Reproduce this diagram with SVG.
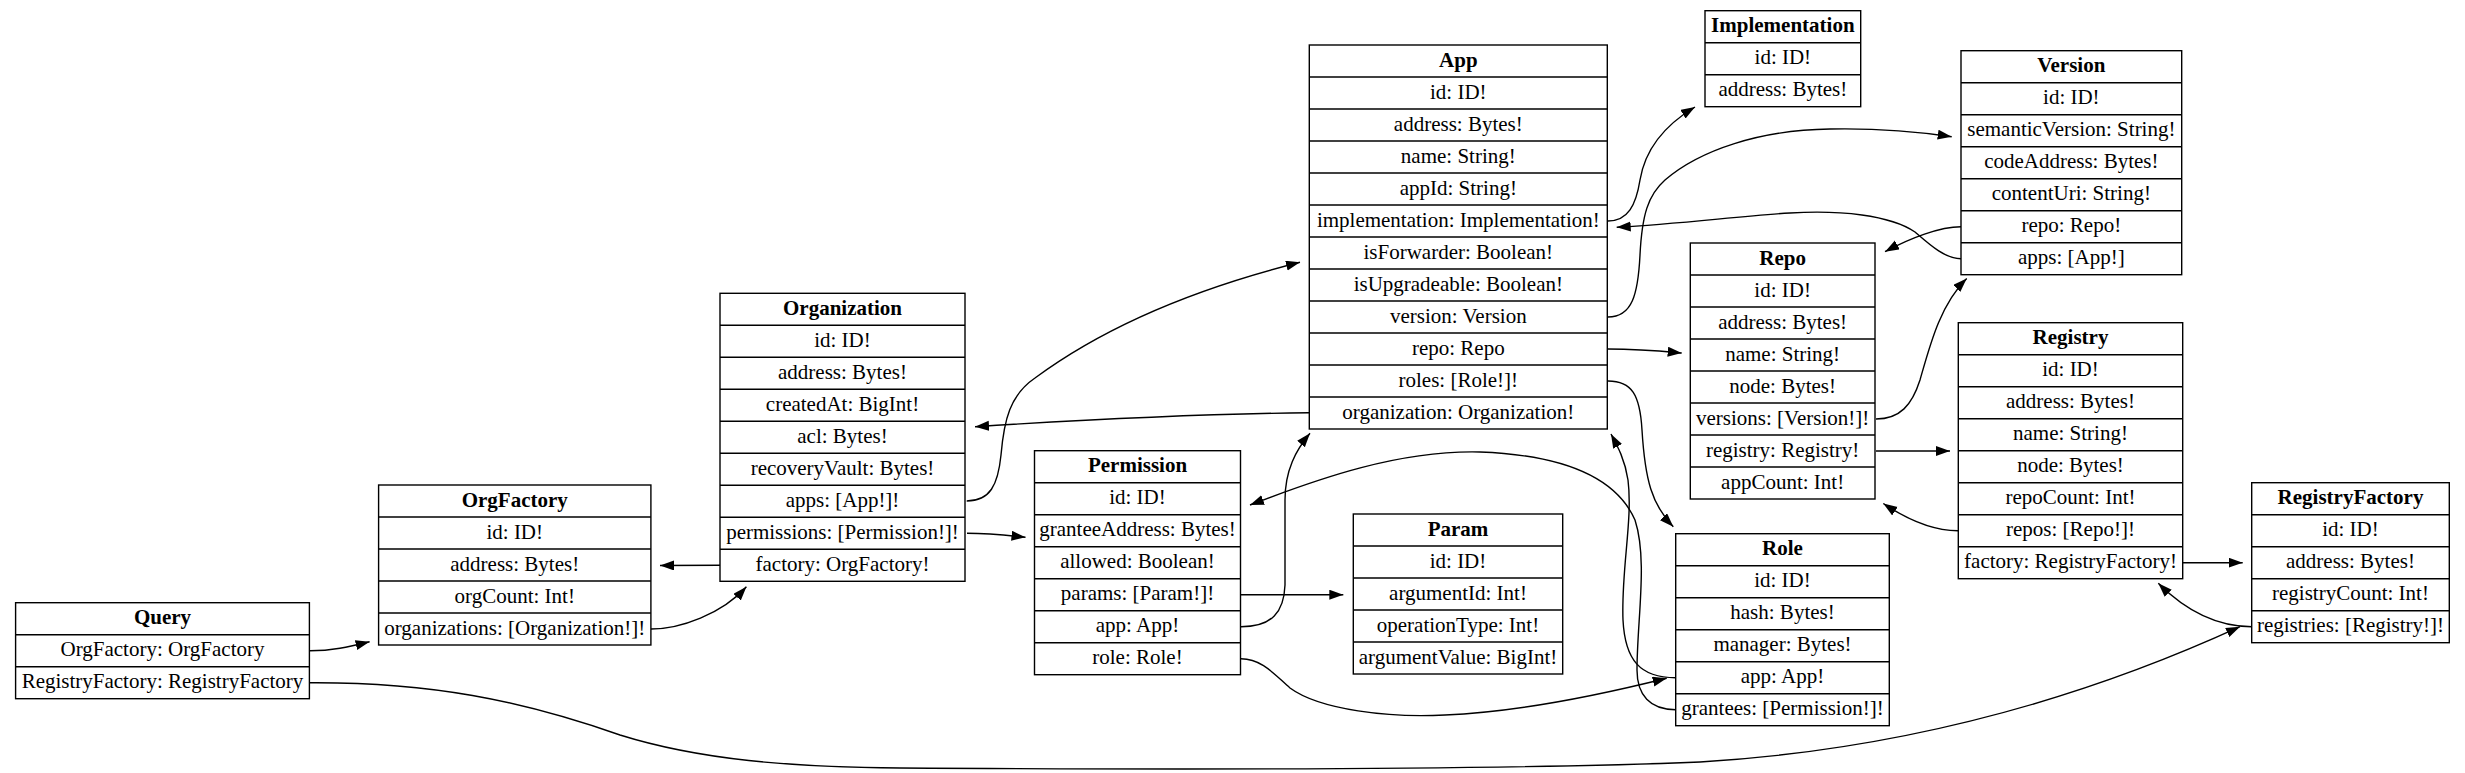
<svg xmlns="http://www.w3.org/2000/svg" width="2465" height="773" viewBox="0 0 2465 773">
<style>
.bg{fill:#fff}
.box{fill:#fff;stroke:#000;stroke-width:1.4}
.sep{stroke:#000;stroke-width:1.4}
.t{font-family:"Liberation Serif","Times New Roman",serif;font-size:21px;text-anchor:middle;fill:#000}
.h{font-weight:bold}
.e{fill:none;stroke:#000;stroke-width:1.4;marker-end:url(#ah)}
</style>
<defs>
<marker id="ah" markerUnits="userSpaceOnUse" markerWidth="15" markerHeight="11" refX="14" refY="5" orient="auto">
<path d="M0,0 L14,5 L0,10 z" fill="#000"/>
</marker>
</defs>
<rect class="bg" x="0" y="0" width="2465" height="773"/>

<g id="edges">
<path class="e" d="M310,650.7 C332,650.7 348,647 369.6,641.7"/>
<path class="e" d="M310,682.7 C430,682 520,700 620,735 C700,760 790,767 900,768 C1200,770 1500,770 1700,762 C1900,750 2080,700 2240,626.7"/>
<path class="e" d="M651,629 C680,629 722,614 746.4,586.7"/>
<path class="e" d="M966.7,501 C990,501 998,485 1001,455 C1004,420 1010,395 1035,378 C1100,330 1190,290 1300,262.3"/>
<path class="e" d="M967,533.3 C990,533.3 1005,535 1025.5,537.3"/>
<path class="e" d="M720,565.3 L660,565.5"/>
<path class="e" d="M1241,594.7 L1343.3,594.7"/>
<path class="e" d="M1241,626.7 C1272,626.7 1284,612 1285,585 L1285,500 C1285,470 1296,450 1310,433.3"/>
<path class="e" d="M1241,658.7 C1262,658.7 1275,675 1290,688 C1320,710 1390,718 1445,715 C1520,712 1600,695 1666.7,678.3"/>
<path class="e" d="M1608,221 C1628,221 1636,205 1640,180 C1645,150 1665,125 1695,107"/>
<path class="e" d="M1608,317 C1632,317 1638,295 1640,255 C1642,215 1648,195 1665,180 C1700,150 1760,130 1830,129 C1880,128 1920,132 1951.7,136.7"/>
<path class="e" d="M1608,349 C1640,349 1660,351 1681.7,353"/>
<path class="e" d="M1608,381 C1632,381 1640,395 1642,430 C1645,480 1652,505 1673.3,526.7"/>
<path class="e" d="M1309,412.7 C1200,414 1080,420 975,426.7"/>
<path class="e" d="M1961,226.7 C1940,226.7 1910,238 1885,251.7"/>
<path class="e" d="M1961,258.7 C1945,258.7 1930,245 1915,232 C1890,215 1840,210 1790,213 C1740,216 1680,224 1616.7,227.3"/>
<path class="e" d="M1876,419 C1900,419 1912,405 1920,380 C1930,345 1940,305 1966.7,278.5"/>
<path class="e" d="M1876,451 L1950,451"/>
<path class="e" d="M1675.7,677.7 C1640,677.7 1625,660 1623,620 C1621,570 1633,520 1628,480 C1625,460 1618,447 1611,434"/>
<path class="e" d="M1675.7,709.7 C1650,709.7 1637,695 1637,670 C1637,620 1648,560 1635,520 C1615,475 1560,455 1480,452 C1400,450 1320,478 1250,505"/>
<path class="e" d="M1958,530.7 C1930,530.7 1905,518 1883.3,503.5"/>
<path class="e" d="M2183,562.7 L2242.7,562.7"/>
<path class="e" d="M2251.7,626.7 C2215,626.7 2185,610 2158.3,583.3"/>
</g>

<g id="Query" transform="translate(15.6,602.7)">
<rect class="box" x="0" y="0" width="293.8" height="96"/>
<line class="sep" x1="0" y1="32" x2="293.8" y2="32"/>
<line class="sep" x1="0" y1="64" x2="293.8" y2="64"/>
<text class="t h" x="146.9" y="21.5">Query</text>
<text class="t" x="146.9" y="53.5">OrgFactory: OrgFactory</text>
<text class="t" x="146.9" y="85.5">RegistryFactory: RegistryFactory</text>
</g>

<g id="OrgFactory" transform="translate(378.6,485)">
<rect class="box" x="0" y="0" width="272.3" height="160"/>
<line class="sep" x1="0" y1="32" x2="272.3" y2="32"/>
<line class="sep" x1="0" y1="64" x2="272.3" y2="64"/>
<line class="sep" x1="0" y1="96" x2="272.3" y2="96"/>
<line class="sep" x1="0" y1="128" x2="272.3" y2="128"/>
<text class="t h" x="136.15" y="21.5">OrgFactory</text>
<text class="t" x="136.15" y="53.5">id: ID!</text>
<text class="t" x="136.15" y="85.5">address: Bytes!</text>
<text class="t" x="136.15" y="117.5">orgCount: Int!</text>
<text class="t" x="136.15" y="149.5">organizations: [Organization!]!</text>
</g>

<g id="Organization" transform="translate(720,293.3)">
<rect class="box" x="0" y="0" width="245" height="288"/>
<line class="sep" x1="0" y1="32" x2="245" y2="32"/>
<line class="sep" x1="0" y1="64" x2="245" y2="64"/>
<line class="sep" x1="0" y1="96" x2="245" y2="96"/>
<line class="sep" x1="0" y1="128" x2="245" y2="128"/>
<line class="sep" x1="0" y1="160" x2="245" y2="160"/>
<line class="sep" x1="0" y1="192" x2="245" y2="192"/>
<line class="sep" x1="0" y1="224" x2="245" y2="224"/>
<line class="sep" x1="0" y1="256" x2="245" y2="256"/>
<text class="t h" x="122.5" y="21.5">Organization</text>
<text class="t" x="122.5" y="53.5">id: ID!</text>
<text class="t" x="122.5" y="85.5">address: Bytes!</text>
<text class="t" x="122.5" y="117.5">createdAt: BigInt!</text>
<text class="t" x="122.5" y="149.5">acl: Bytes!</text>
<text class="t" x="122.5" y="181.5">recoveryVault: Bytes!</text>
<text class="t" x="122.5" y="213.5">apps: [App!]!</text>
<text class="t" x="122.5" y="245.5">permissions: [Permission!]!</text>
<text class="t" x="122.5" y="277.5">factory: OrgFactory!</text>
</g>

<g id="Permission" transform="translate(1034.5,450.7)">
<rect class="box" x="0" y="0" width="206" height="224"/>
<line class="sep" x1="0" y1="32" x2="206" y2="32"/>
<line class="sep" x1="0" y1="64" x2="206" y2="64"/>
<line class="sep" x1="0" y1="96" x2="206" y2="96"/>
<line class="sep" x1="0" y1="128" x2="206" y2="128"/>
<line class="sep" x1="0" y1="160" x2="206" y2="160"/>
<line class="sep" x1="0" y1="192" x2="206" y2="192"/>
<text class="t h" x="103" y="21.5">Permission</text>
<text class="t" x="103" y="53.5">id: ID!</text>
<text class="t" x="103" y="85.5">granteeAddress: Bytes!</text>
<text class="t" x="103" y="117.5">allowed: Boolean!</text>
<text class="t" x="103" y="149.5">params: [Param!]!</text>
<text class="t" x="103" y="181.5">app: App!</text>
<text class="t" x="103" y="213.5">role: Role!</text>
</g>

<g id="Param" transform="translate(1353.3,514)">
<rect class="box" x="0" y="0" width="209.4" height="160"/>
<line class="sep" x1="0" y1="32" x2="209.4" y2="32"/>
<line class="sep" x1="0" y1="64" x2="209.4" y2="64"/>
<line class="sep" x1="0" y1="96" x2="209.4" y2="96"/>
<line class="sep" x1="0" y1="128" x2="209.4" y2="128"/>
<text class="t h" x="104.7" y="21.5">Param</text>
<text class="t" x="104.7" y="53.5">id: ID!</text>
<text class="t" x="104.7" y="85.5">argumentId: Int!</text>
<text class="t" x="104.7" y="117.5">operationType: Int!</text>
<text class="t" x="104.7" y="149.5">argumentValue: BigInt!</text>
</g>

<g id="App" transform="translate(1309.3,45)">
<rect class="box" x="0" y="0" width="298" height="384"/>
<line class="sep" x1="0" y1="32" x2="298" y2="32"/>
<line class="sep" x1="0" y1="64" x2="298" y2="64"/>
<line class="sep" x1="0" y1="96" x2="298" y2="96"/>
<line class="sep" x1="0" y1="128" x2="298" y2="128"/>
<line class="sep" x1="0" y1="160" x2="298" y2="160"/>
<line class="sep" x1="0" y1="192" x2="298" y2="192"/>
<line class="sep" x1="0" y1="224" x2="298" y2="224"/>
<line class="sep" x1="0" y1="256" x2="298" y2="256"/>
<line class="sep" x1="0" y1="288" x2="298" y2="288"/>
<line class="sep" x1="0" y1="320" x2="298" y2="320"/>
<line class="sep" x1="0" y1="352" x2="298" y2="352"/>
<text class="t h" x="149" y="21.5">App</text>
<text class="t" x="149" y="53.5">id: ID!</text>
<text class="t" x="149" y="85.5">address: Bytes!</text>
<text class="t" x="149" y="117.5">name: String!</text>
<text class="t" x="149" y="149.5">appId: String!</text>
<text class="t" x="149" y="181.5">implementation: Implementation!</text>
<text class="t" x="149" y="213.5">isForwarder: Boolean!</text>
<text class="t" x="149" y="245.5">isUpgradeable: Boolean!</text>
<text class="t" x="149" y="277.5">version: Version</text>
<text class="t" x="149" y="309.5">repo: Repo</text>
<text class="t" x="149" y="341.5">roles: [Role!]!</text>
<text class="t" x="149" y="373.5">organization: Organization!</text>
</g>

<g id="Implementation" transform="translate(1705,10.7)">
<rect class="box" x="0" y="0" width="155.7" height="96"/>
<line class="sep" x1="0" y1="32" x2="155.7" y2="32"/>
<line class="sep" x1="0" y1="64" x2="155.7" y2="64"/>
<text class="t h" x="77.85" y="21.5">Implementation</text>
<text class="t" x="77.85" y="53.5">id: ID!</text>
<text class="t" x="77.85" y="85.5">address: Bytes!</text>
</g>

<g id="Version" transform="translate(1961,50.7)">
<rect class="box" x="0" y="0" width="220.7" height="224"/>
<line class="sep" x1="0" y1="32" x2="220.7" y2="32"/>
<line class="sep" x1="0" y1="64" x2="220.7" y2="64"/>
<line class="sep" x1="0" y1="96" x2="220.7" y2="96"/>
<line class="sep" x1="0" y1="128" x2="220.7" y2="128"/>
<line class="sep" x1="0" y1="160" x2="220.7" y2="160"/>
<line class="sep" x1="0" y1="192" x2="220.7" y2="192"/>
<text class="t h" x="110.35" y="21.5">Version</text>
<text class="t" x="110.35" y="53.5">id: ID!</text>
<text class="t" x="110.35" y="85.5">semanticVersion: String!</text>
<text class="t" x="110.35" y="117.5">codeAddress: Bytes!</text>
<text class="t" x="110.35" y="149.5">contentUri: String!</text>
<text class="t" x="110.35" y="181.5">repo: Repo!</text>
<text class="t" x="110.35" y="213.5">apps: [App!]</text>
</g>

<g id="Repo" transform="translate(1690.3,243)">
<rect class="box" x="0" y="0" width="184.7" height="256"/>
<line class="sep" x1="0" y1="32" x2="184.7" y2="32"/>
<line class="sep" x1="0" y1="64" x2="184.7" y2="64"/>
<line class="sep" x1="0" y1="96" x2="184.7" y2="96"/>
<line class="sep" x1="0" y1="128" x2="184.7" y2="128"/>
<line class="sep" x1="0" y1="160" x2="184.7" y2="160"/>
<line class="sep" x1="0" y1="192" x2="184.7" y2="192"/>
<line class="sep" x1="0" y1="224" x2="184.7" y2="224"/>
<text class="t h" x="92.35" y="21.5">Repo</text>
<text class="t" x="92.35" y="53.5">id: ID!</text>
<text class="t" x="92.35" y="85.5">address: Bytes!</text>
<text class="t" x="92.35" y="117.5">name: String!</text>
<text class="t" x="92.35" y="149.5">node: Bytes!</text>
<text class="t" x="92.35" y="181.5">versions: [Version!]!</text>
<text class="t" x="92.35" y="213.5">registry: Registry!</text>
<text class="t" x="92.35" y="245.5">appCount: Int!</text>
</g>

<g id="Role" transform="translate(1675.7,533.7)">
<rect class="box" x="0" y="0" width="213.6" height="192"/>
<line class="sep" x1="0" y1="32" x2="213.6" y2="32"/>
<line class="sep" x1="0" y1="64" x2="213.6" y2="64"/>
<line class="sep" x1="0" y1="96" x2="213.6" y2="96"/>
<line class="sep" x1="0" y1="128" x2="213.6" y2="128"/>
<line class="sep" x1="0" y1="160" x2="213.6" y2="160"/>
<text class="t h" x="106.8" y="21.5">Role</text>
<text class="t" x="106.8" y="53.5">id: ID!</text>
<text class="t" x="106.8" y="85.5">hash: Bytes!</text>
<text class="t" x="106.8" y="117.5">manager: Bytes!</text>
<text class="t" x="106.8" y="149.5">app: App!</text>
<text class="t" x="106.8" y="181.5">grantees: [Permission!]!</text>
</g>

<g id="Registry" transform="translate(1958.3,322.7)">
<rect class="box" x="0" y="0" width="224.4" height="256"/>
<line class="sep" x1="0" y1="32" x2="224.4" y2="32"/>
<line class="sep" x1="0" y1="64" x2="224.4" y2="64"/>
<line class="sep" x1="0" y1="96" x2="224.4" y2="96"/>
<line class="sep" x1="0" y1="128" x2="224.4" y2="128"/>
<line class="sep" x1="0" y1="160" x2="224.4" y2="160"/>
<line class="sep" x1="0" y1="192" x2="224.4" y2="192"/>
<line class="sep" x1="0" y1="224" x2="224.4" y2="224"/>
<text class="t h" x="112.2" y="21.5">Registry</text>
<text class="t" x="112.2" y="53.5">id: ID!</text>
<text class="t" x="112.2" y="85.5">address: Bytes!</text>
<text class="t" x="112.2" y="117.5">name: String!</text>
<text class="t" x="112.2" y="149.5">node: Bytes!</text>
<text class="t" x="112.2" y="181.5">repoCount: Int!</text>
<text class="t" x="112.2" y="213.5">repos: [Repo!]!</text>
<text class="t" x="112.2" y="245.5">factory: RegistryFactory!</text>
</g>

<g id="RegistryFactory" transform="translate(2251.7,482.7)">
<rect class="box" x="0" y="0" width="197.6" height="160"/>
<line class="sep" x1="0" y1="32" x2="197.6" y2="32"/>
<line class="sep" x1="0" y1="64" x2="197.6" y2="64"/>
<line class="sep" x1="0" y1="96" x2="197.6" y2="96"/>
<line class="sep" x1="0" y1="128" x2="197.6" y2="128"/>
<text class="t h" x="98.8" y="21.5">RegistryFactory</text>
<text class="t" x="98.8" y="53.5">id: ID!</text>
<text class="t" x="98.8" y="85.5">address: Bytes!</text>
<text class="t" x="98.8" y="117.5">registryCount: Int!</text>
<text class="t" x="98.8" y="149.5">registries: [Registry!]!</text>
</g>
</svg>
